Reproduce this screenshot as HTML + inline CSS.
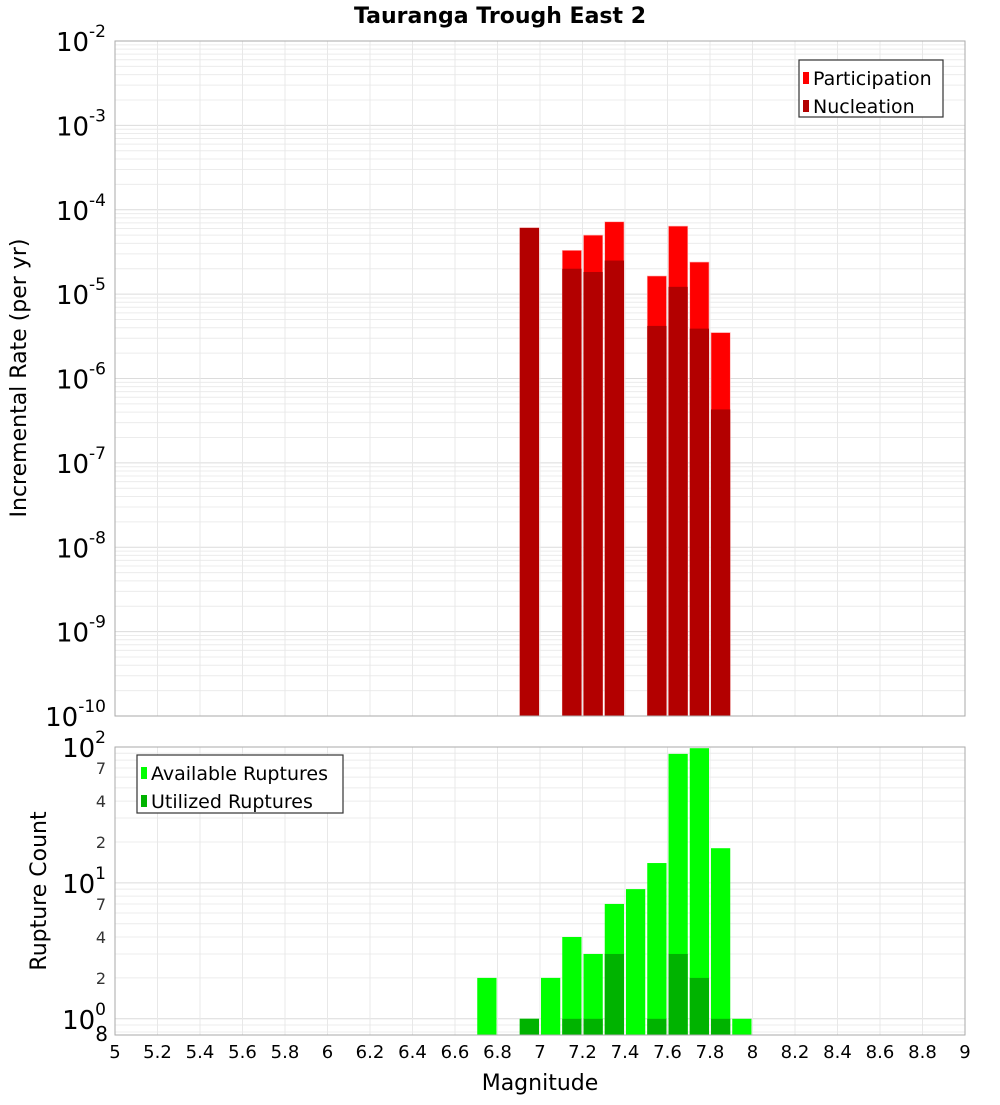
<!DOCTYPE html>
<html><head><meta charset="utf-8"><style>
body{margin:0;background:#fff;}
svg text{font-family:"DejaVu Sans","Liberation Sans",sans-serif;}
</style></head><body>
<svg id="chart" width="1000" height="1100" viewBox="0 0 1000 1100" xmlns="http://www.w3.org/2000/svg">
<text x="500" y="23" text-anchor="middle" font-size="22" font-weight="bold">Tauranga Trough East 2</text>
<g id="topPlot"></g>
<g id="botPlot"></g>
<text transform="translate(26,378) rotate(-90)" text-anchor="middle" font-size="22">Incremental Rate (per yr)</text>
<text transform="translate(46,891) rotate(-90)" text-anchor="middle" font-size="22">Rupture Count</text>
<text x="540" y="1090" text-anchor="middle" font-size="22">Magnitude</text>
</svg>
<script>
const mags = [6.75, 6.95, 7.05, 7.15, 7.25, 7.35, 7.45, 7.55, 7.65, 7.75, 7.85, 7.95];
const participation = [0, 6.1e-5, 0, 3.3e-5, 5.0e-5, 7.2e-5, 0, 1.64e-5, 6.4e-5, 2.4e-5, 3.5e-6, 0];
const nucleation = [0, 6.1e-5, 0, 2.0e-5, 1.83e-5, 2.5e-5, 0, 4.2e-6, 1.22e-5, 3.9e-6, 4.3e-7, 0];
const available = [2, 1, 2, 4, 3, 7, 9, 14, 89, 98, 18, 1];
const utilized = [0, 1, 0, 1, 1, 3, 0, 1, 3, 2, 1, 0];
const xTicks = ["5","5.2","5.4","5.6","5.8","6","6.2","6.4","6.6","6.8","7","7.2","7.4","7.6","7.8","8","8.2","8.4","8.6","8.8","9"];
const rateExps = [-2,-3,-4,-5,-6,-7,-8,-9,-10];
const countExps = [2,1,0];
const countMinorLabels = [2,4,7];

const NS="http://www.w3.org/2000/svg";
const L=115,R=965;
const xs=m=>L+(m-5)/4*(R-L);
const T1=41,B1=716, lmin1=-10,lmax1=-2;
const y1=v=>B1-(Math.log10(v)-lmin1)/(lmax1-lmin1)*(B1-T1);
const T2=747,B2=1035, lmin2=Math.log10(0.76),lmax2=2;
const y2=v=>B2-(Math.log10(v)-lmin2)/(lmax2-lmin2)*(B2-T2);
const bw=(xs(5.1)-xs(5))-2;

function mk(tag,attrs,parent,text){const e=document.createElementNS(NS,tag);for(const k in attrs)e.setAttribute(k,attrs[k]);if(text!==undefined)e.textContent=text;parent.appendChild(e);return e;}

function frame(g,T,B,lmin,lmax,yf){
  for(let d=Math.floor(lmin)-1;d<=lmax;d++){for(let k=1;k<10;k++){const v=k*Math.pow(10,d);const lv=Math.log10(v);if(lv<lmin||lv>lmax)continue;
    const y=yf(v);const ln=mk('line',{x1:L,x2:R,y1:y,y2:y,stroke:k===1?'#dcdcdc':'#ececec','stroke-width':1},g);
    
    }}
  for(let i=0;i<xTicks.length;i++){const x=xs(5+i*0.2);const ln=mk('line',{x1:x,x2:x,y1:T,y2:B,stroke:'#e8e8e8','stroke-width':1},g);
    
    }
}
function border(g,T,B){const r=mk('rect',{x:L,y:T,width:R-L,height:B-T,fill:'none',stroke:'#aaaaaa','stroke-width':1},g);
  
  }

const topG=document.getElementById('topPlot');
frame(topG,T1,B1,lmin1,lmax1,y1);
mags.forEach((m,i)=>{
  if(participation[i]>0){const r=mk('rect',{x:xs(m)-bw/2,y:y1(participation[i]),width:bw,height:B1-y1(participation[i]),fill:'#ff0000',stroke:'#ffb0b0','stroke-width':0.6},topG);
    
    }
  if(nucleation[i]>0){const r=mk('rect',{x:xs(m)-bw/2,y:y1(nucleation[i]),width:bw,height:B1-y1(nucleation[i]),fill:'#b30000'},topG);
    
    }
});
border(topG,T1,B1);
rateExps.forEach(e=>{const y=y1(Math.pow(10,e));const t=mk('text',{x:106,y:y+10,'text-anchor':'end','font-size':26},topG);
  
  
  t.textContent='10';mk('tspan',{dy:-14,'font-size':17},t,String(e));});

const botG=document.getElementById('botPlot');
frame(botG,T2,B2,lmin2,lmax2,y2);
mags.forEach((m,i)=>{
  if(available[i]>0){const r=mk('rect',{x:xs(m)-bw/2,y:y2(available[i]),width:bw,height:B2-y2(available[i]),fill:'#00ff00'},botG);
    
    }
  if(utilized[i]>0){const r=mk('rect',{x:xs(m)-bw/2,y:y2(utilized[i]),width:bw,height:B2-y2(utilized[i]),fill:'#00b300'},botG);
    
    }
});
border(botG,T2,B2);
countExps.forEach(e=>{const y=y2(Math.pow(10,e));const t=mk('text',{x:106,y:y+10,'text-anchor':'end','font-size':26},botG);
  
  
  t.textContent='10';mk('tspan',{dy:-14,'font-size':17},t,String(e));});
[0,1].forEach(d=>countMinorLabels.forEach(k=>{const y=y2(k*Math.pow(10,d));const t=mk('text',{x:106,y:y+6,'text-anchor':'end','font-size':16,fill:'#333'},botG,String(k));
  
  }));
{const t=mk('text',{x:108,y:1041,'text-anchor':'end','font-size':20},botG,'8');
  
  }
xTicks.forEach((s,i)=>{const t=mk('text',{x:xs(5+i*0.2),y:1058,'text-anchor':'middle','font-size':18},botG,s);
  
  });

function legend(parent,x,y,w,h,items){const g=mk('g',{},parent);
  
  
  mk('rect',{x:x,y:y,width:w,height:h,fill:'#fff',stroke:'#333','stroke-width':1.2},g);
  items.forEach((it,i)=>{const yy=y+19+i*28;
    const s=mk('rect',{x:x+4,y:yy-7,width:6,height:12,fill:it[1]},g);
    
    
    const t=mk('text',{x:x+14,y:yy+6,'font-size':19},g,it[0]);
    
    });}
legend(topG,799,60,144,57,[['Participation','#ff0000'],['Nucleation','#b30000']]);
legend(botG,137,755,206,58,[['Available Ruptures','#00ff00'],['Utilized Ruptures','#00b300']]);
</script>
</body></html>
